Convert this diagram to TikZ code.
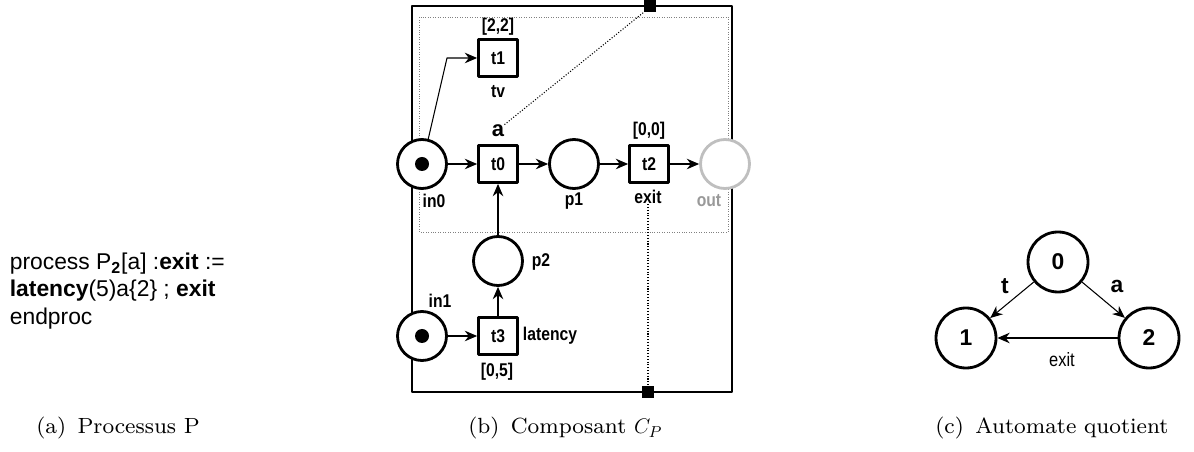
\documentclass[tikz,border=0pt]{standalone}
\usepackage{fontspec}
\newfontfamily\sansfont{Liberation Sans}
\newfontfamily\netfont{Liberation Sans}[FakeStretch=0.85]
\newfontfamily\capfont{lmroman8-regular}[Extension=.otf]
\usetikzlibrary{arrows.meta}
\tikzset{
  place/.style={circle, draw, fill=white, line width=1.6pt, minimum size=0.98cm, inner sep=0pt},
  trans/.style={rectangle, draw, fill=white, line width=1.6pt, minimum width=0.78cm, minimum height=0.74cm, inner sep=0pt, font=\netfont\bfseries\fontsize{10.5}{10.5}\selectfont},
  token/.style={circle, fill=black, minimum size=0.28cm, inner sep=0pt},
  port/.style={rectangle, fill=black, minimum size=0.24cm, inner sep=0pt},
  lbl/.style={inner sep=0pt, font=\netfont\bfseries\fontsize{10.5}{10.5}\selectfont},
  state/.style={circle, draw, line width=1.6pt, minimum size=1.2cm, inner sep=0pt, font=\sansfont\bfseries\fontsize{13}{13}\selectfont},
  flow/.style={->, line width=0.6pt},
  subcap/.style={anchor=west, inner sep=0pt, font=\capfont\fontsize{12.5}{12.5}\selectfont}
}
\begin{document}
\begin{tikzpicture}[line join=round, >={Stealth[length=7pt,width=6pt]}]
\useasboundingbox (0,0) rectangle (23.88,9.04);
% (a) process text
\node[anchor=west, align=left, inner sep=0pt, font=\sansfont\fontsize{13}{15.5}\selectfont] (proc) at (0.19,3.22)
  {process P\textsubscript{\textbf{2}}[a] :\textbf{exit} :=\\ \textbf{latency}(5)a\{2\} ; \textbf{exit}\\ endproc};
\node[subcap] (capa) at (0.72,0.48) {(a)\ \,Processus P};
% (b) component
\draw[line width=0.6pt] (8.24,1.2) rectangle (14.64,8.92);
\draw[densely dotted, gray] (8.38,4.4) rectangle (14.56,8.7);
\node[port] (ptop) at (13.0,8.92) {};
\node[port] (pbot) at (12.96,1.2) {};
\node[place] (in0) at (8.44,5.76) {};
\node[token] (tok0) at (in0.center) {};
\node[trans] (t0) at (9.96,5.76) {t0};
\node[place] (p1) at (11.48,5.76) {};
\node[trans] (t2) at (12.98,5.76) {t2};
\node[place, draw=black!25] (out) at (14.5,5.76) {};
\node[trans] (t1) at (9.96,7.88) {t1};
\node[place] (p2) at (9.96,3.82) {};
\node[place] (in1) at (8.44,2.32) {};
\node[token] (tok1) at (in1.center) {};
\node[trans] (t3) at (9.96,2.32) {t3};
\node[lbl] (lin0) at (8.68,5.02) {in0};
\node[lbl] (lin1) at (8.8,3.02) {in1};
\node[lbl] (lp1) at (11.48,5.02) {p1};
\node[lbl] (lp2) at (10.82,3.8) {p2};
\node[lbl, black!40] (lout) at (14.18,5.02) {out};
\node[lbl] (lt1a) at (9.96,8.5) {[2,2]};
\node[lbl] (lt1b) at (9.96,7.2) {tv};
\node[lbl, font=\sansfont\bfseries\fontsize{12.5}{12.5}\selectfont] (lt0) at (9.96,6.42) {a};
\node[lbl] (lt2a) at (12.98,6.42) {[0,0]};
\node[lbl] (lt2b) at (12.96,5.1) {exit};
\node[lbl] (lt3a) at (11.0,2.32) {latency};
\node[lbl] (lt3b) at (9.94,1.6) {[0,5]};
\coordinate (kink) at (8.94,7.88);
\draw[flow] (in0) -- (t0);
\draw[flow] (t0) -- (p1);
\draw[flow] (p1) -- (t2);
\draw[flow] (t2) -- (out);
\draw[flow] (in0.76) -- (kink) -- (t1);
\draw[flow] (p2) -- (t0);
\draw[flow] (t3) -- (p2);
\draw[flow] (in1) -- (t3);
\draw[densely dotted, line width=0.6pt] (lt0.north east) -- (ptop.south west);
\draw[densely dotted, line width=0.6pt] (lt2b.south) -- (pbot.north);
\node[subcap] (capb) at (9.36,0.48) {(b)\ \,Composant $C_P$};
% (c) quotient automaton
\node[state] (s0) at (21.16,3.8) {0};
\node[state] (s1) at (19.32,2.28) {1};
\node[state] (s2) at (22.98,2.28) {2};
\draw[flow] (s0) -- (s1);
\draw[flow] (s0) -- (s2);
\draw[flow] (s2) -- (s1);
\node[lbl, font=\sansfont\bfseries\fontsize{13}{13}\selectfont] (lt) at (20.1,3.32) {t};
\node[lbl, font=\sansfont\bfseries\fontsize{13}{13}\selectfont] (la) at (22.34,3.32) {a};
\node[lbl, font=\netfont\fontsize{11}{11}\selectfont] (lexit) at (21.24,1.84) {exit};
\node[subcap] (capc) at (18.7,0.48) {(c)\ \,Automate quotient};
\end{tikzpicture}
\end{document}
